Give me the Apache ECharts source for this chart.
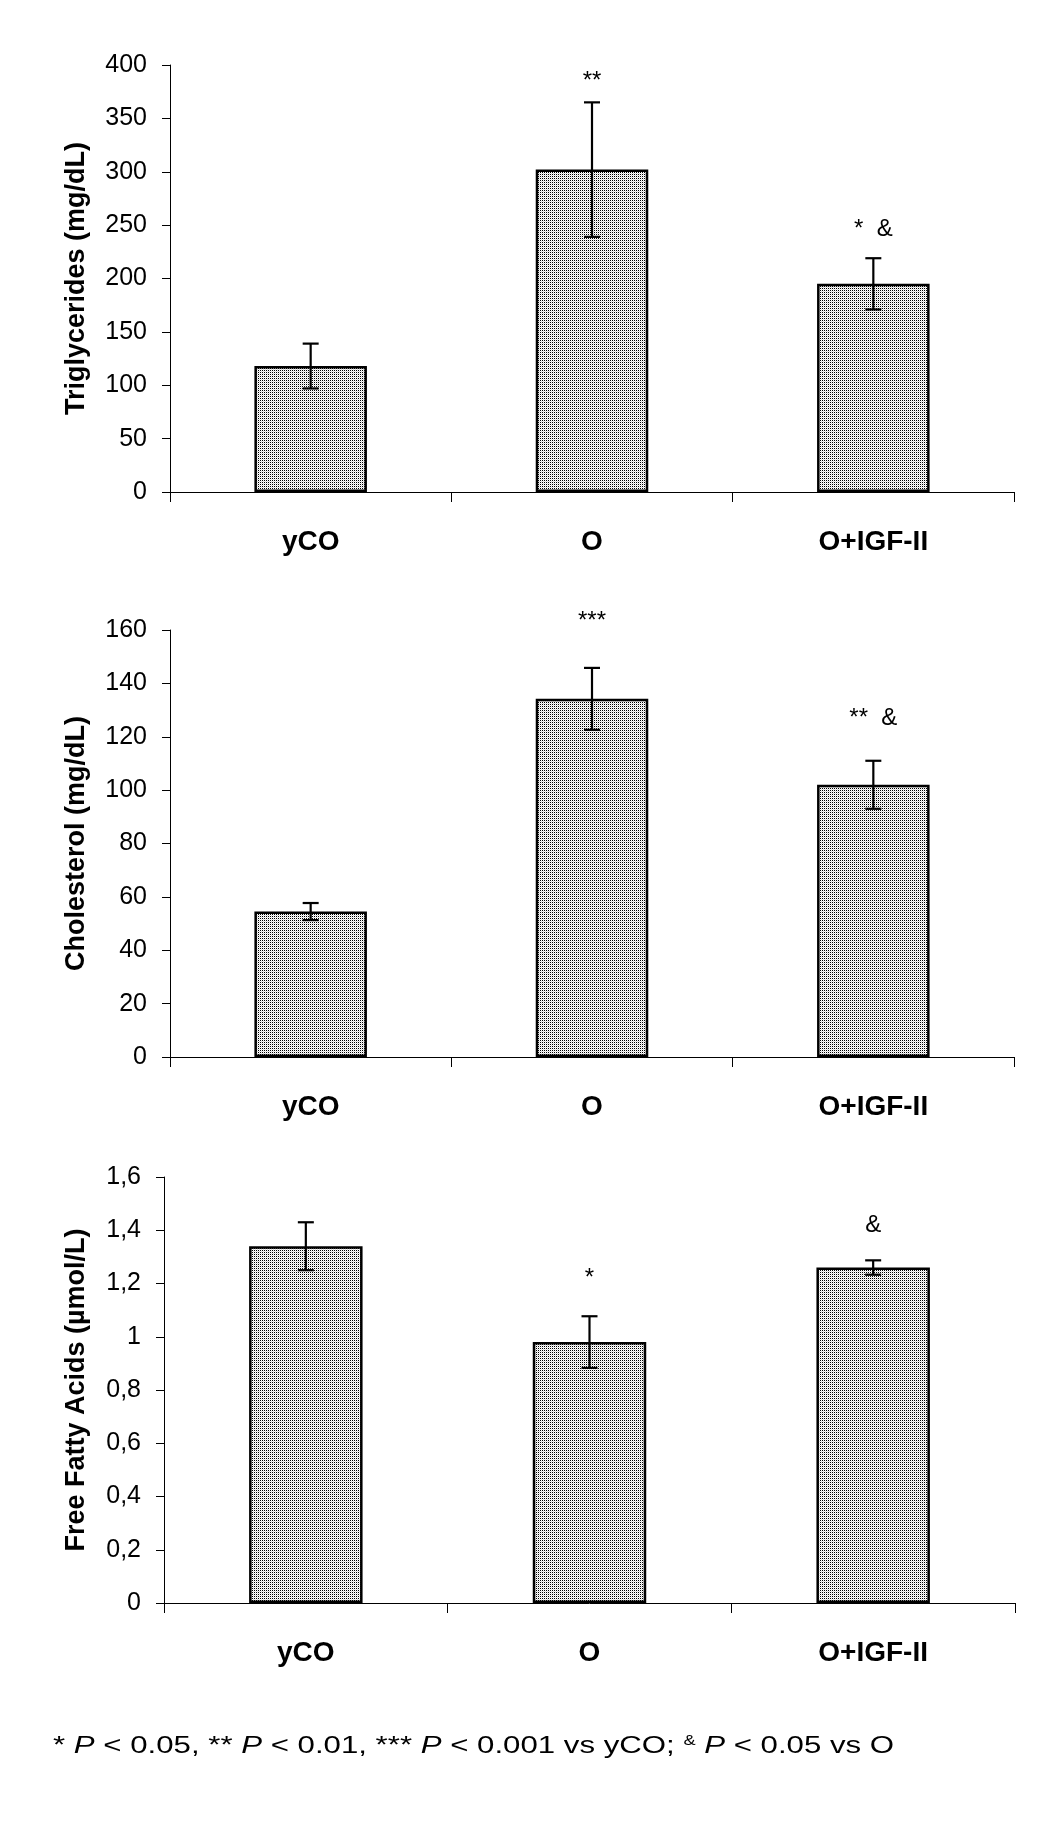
<!DOCTYPE html>
<html>
<head>
<meta charset="utf-8">
<script src="https://cdn.jsdelivr.net/npm/echarts@6/dist/echarts.min.js"></script>
<style>
html,body{margin:0;padding:0;background:#fff;}
#c{width:1041px;height:1840px;}
</style>
</head>
<body>
<div id="c"></div>
<script>
// ---- data ----
const categories = ['yCO', 'O', 'O+IGF-II'];

const tgMean = [118, 302, 195];
const tgErr = [21, 63, 24];
const tgSig = ['', '**', '*  &'];
const tgSigPos = [null, 385, 246];

const cholMean = [54.5, 134.2, 102];
const cholErr = [3.2, 11.6, 9];
const cholSig = ['', '***', '**  &'];
const cholSigPos = [null, 163.4, 127];

const ffaMean = [1.34, 0.98, 1.26];
const ffaErr = [0.09, 0.097, 0.027];
const ffaSig = ['', '*', '&'];
const ffaSigPos = [null, 1.22, 1.42];

const tgTicks = {min: 0, max: 400, interval: 50};
const cholTicks = {min: 0, max: 160, interval: 20};
const ffaTicks = {min: 0, max: 1.6, interval: 0.2};

const yTitles = ['Triglycerides (mg/dL)', 'Cholesterol (mg/dL)', 'Free Fatty Acids (\u00b5mol/L)'];

// ---- pattern fill ----
function makePattern() {
  const cv = document.createElement('canvas');
  cv.width = 2; cv.height = 2;
  const ctx = cv.getContext('2d');
  ctx.fillStyle = '#ffffff';
  ctx.fillRect(0, 0, 2, 2);
  ctx.fillStyle = '#000000';
  ctx.fillRect(0, 0, 1, 1);
  ctx.fillStyle = '#d8d8d8';
  ctx.fillRect(1, 1, 1, 1);
  return {image: cv, repeat: 'repeat'};
}
const pattern = makePattern();

const FONT = 'Arial, "Liberation Sans", sans-serif';

const panels = [
  {mean: tgMean, err: tgErr, sig: tgSig, sigPos: tgSigPos, ticks: tgTicks, grid: {left: 170, top: 65, width: 844, height: 427}, nameGap: 80},
  {mean: cholMean, err: cholErr, sig: cholSig, sigPos: cholSigPos, ticks: cholTicks, grid: {left: 170, top: 630, width: 844, height: 427}, nameGap: 80},
  {mean: ffaMean, err: ffaErr, sig: ffaSig, sigPos: ffaSigPos, ticks: ffaTicks, grid: {left: 164, top: 1177, width: 851, height: 426}, nameGap: 74, comma: true}
];

const grids = [], xAxes = [], yAxes = [], series = [];
panels.forEach((p, k) => {
  grids.push(p.grid);
  xAxes.push({
    type: 'category', gridIndex: k, data: categories, boundaryGap: true,
    axisLine: {show: true, lineStyle: {color: '#000', width: 1}},
    axisTick: {show: true, length: 10, interval: 0, alignWithLabel: false, lineStyle: {color: '#000', width: 1}},
    axisLabel: {interval: 0, margin: 36, color: '#000', fontSize: 28, fontWeight: 'bold', fontFamily: FONT, lineHeight: 28},
    splitLine: {show: false}
  });
  yAxes.push({
    type: 'value', gridIndex: k, min: p.ticks.min, max: p.ticks.max, interval: p.ticks.interval,
    name: yTitles[k], nameLocation: 'middle', nameGap: p.nameGap, nameRotate: 90,
    nameTextStyle: {color: '#000', fontSize: 27, fontWeight: 'bold', fontFamily: FONT},
    axisLine: {show: true, lineStyle: {color: '#000', width: 1}},
    axisTick: {show: true, length: 8, inside: false, lineStyle: {color: '#000', width: 1}},
    axisLabel: {margin: 23, color: '#000', fontSize: 25, fontFamily: FONT,
      formatter: p.comma ? (v => String(+(+v).toFixed(1)).replace('.', ',')) : (v => String(v))},
    splitLine: {show: false}
  });
  series.push({
    type: 'bar', xAxisIndex: k, yAxisIndex: k, data: p.mean, barWidth: '40%',
    itemStyle: {color: pattern, borderColor: '#000', borderWidth: 2.5},
    silent: true, animation: false
  });
  series.push({
    type: 'custom', xAxisIndex: k, yAxisIndex: k, z: 5, clip: false, animation: false, silent: true,
    data: p.mean.map((m, i) => [i, m, p.err[i]]),
    renderItem: function (params, api) {
      const i = api.value(0), m = api.value(1), e = api.value(2);
      const top = api.coord([i, m + e]);
      const bot = api.coord([i, m - e]);
      const hw = 8;
      const st = {stroke: '#000', lineWidth: 2.2};
      return {type: 'group', children: [
        {type: 'line', shape: {x1: top[0], y1: top[1], x2: bot[0], y2: bot[1]}, style: st},
        {type: 'line', shape: {x1: top[0] - hw, y1: top[1], x2: top[0] + hw, y2: top[1]}, style: st},
        {type: 'line', shape: {x1: bot[0] - hw, y1: bot[1], x2: bot[0] + hw, y2: bot[1]}, style: st}
      ]};
    }
  });
  series.push({
    type: 'custom', xAxisIndex: k, yAxisIndex: k, z: 6, clip: false, animation: false, silent: true,
    data: p.sigPos.map((v, i) => [i, v === null ? NaN : v]),
    renderItem: function (params, api) {
      const txt = p.sig[params.dataIndex];
      const y = api.value(1);
      if (!txt || isNaN(y)) return null;
      const pt = api.coord([api.value(0), y]);
      return {type: 'text', x: pt[0], y: pt[1], style: {text: txt, fill: '#000', font: '24px ' + FONT, textAlign: 'center', textVerticalAlign: 'middle'}};
    }
  });
});

const chart = echarts.init(document.getElementById('c'), null, {renderer: 'canvas'});
chart.setOption({
  backgroundColor: '#fff',
  animation: false,
  grid: grids, xAxis: xAxes, yAxis: yAxes, series: series,
  graphic: [{
    type: 'text', x: 53, y: 1746, scaleX: 1.3, originX: 0, originY: 0,
    style: {
      text: '* {i|P} < 0.05, ** {i|P} < 0.01, *** {i|P} < 0.001 vs yCO; {s|&} {i|P} < 0.05 vs O',
      fill: '#000', font: '24px ' + FONT, textVerticalAlign: 'middle', textAlign: 'left',
      rich: {
        i: {fontStyle: 'italic', fontSize: 24, fontFamily: FONT},
        s: {fontSize: 14, fontFamily: FONT, verticalAlign: 'top', lineHeight: 14}
      }
    }
  }]
});
</script>
</body>
</html>
